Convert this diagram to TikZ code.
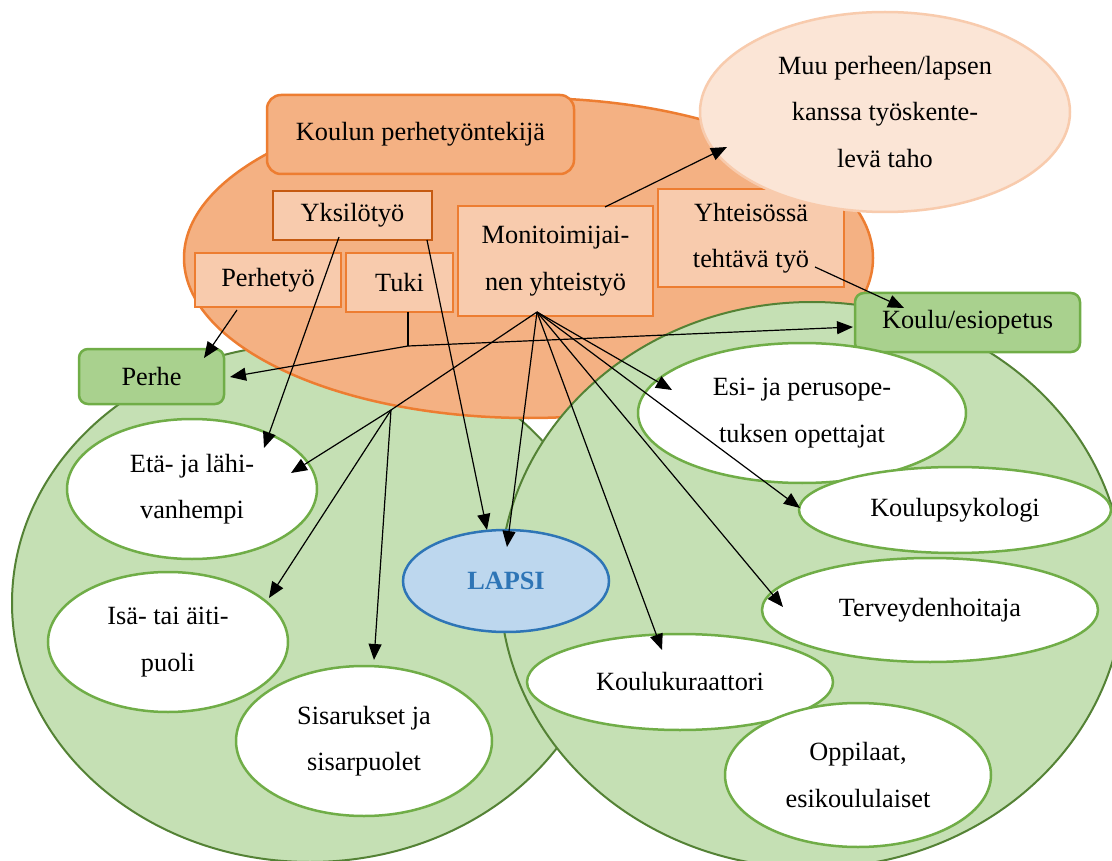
\documentclass[tikz,border=0pt]{standalone}
\usepackage{fontspec}
\setmainfont{Liberation Serif}
\usetikzlibrary{arrows.meta,shapes.geometric}
\definecolor{orF}{HTML}{F4B183}
\definecolor{orB}{HTML}{ED7D31}
\definecolor{orL}{HTML}{F8CBAD}
\definecolor{orD}{HTML}{C55A11}
\definecolor{orXL}{HTML}{FBE5D6}
\definecolor{grF}{HTML}{C5E0B4}
\definecolor{grD}{HTML}{548235}
\definecolor{grM}{HTML}{70AD47}
\definecolor{grB}{HTML}{A9D18E}
\definecolor{blF}{HTML}{BDD7EE}
\definecolor{blB}{HTML}{2E75B6}
\begin{document}
\begin{tikzpicture}[x=1pt,y=-1pt,
  txt/.style={font=\fontsize{26.3}{46.5}\selectfont, align=center, text=black},
  obox/.style={txt, rectangle, draw=orB, fill=orL, line width=2.5pt, inner sep=0pt},
  wel/.style={txt, ellipse, draw=grM, fill=white, line width=2.5pt, inner sep=0pt},
  gbox/.style={txt, rectangle, draw=grM, fill=grB, line width=2.5pt, rounded corners=9pt, inner sep=0pt},
  biggreen/.style={ellipse, fill=grF, draw=grD, line width=2pt, inner sep=0pt},
  arr/.style={-{Triangle[length=16pt,width=13pt]}, line width=1.2pt, black},
  ln/.style={line width=1.2pt, black}
]
\clip (0,0) rectangle (1112,861);
\fill[white] (0,0) rectangle (1112,861);
% left green region (Perhe)
\node[biggreen, minimum width=596pt, minimum height=518pt] (gleft) at (310,603) {};
% orange region
\node[ellipse, fill=orF, draw=orB, line width=2.5pt, inner sep=0pt,
      minimum width=689pt, minimum height=320pt] (oel) at (528.5,258) {};
% right green region (Koulu)
\node[biggreen, minimum width=624pt, minimum height=566pt] (gright) at (812,585) {};
% orange boxes
\node[txt, rectangle, draw=orB, fill=orF, line width=2.5pt, rounded corners=14pt,
      minimum width=307pt, minimum height=79pt, inner sep=0pt] (kpt) at (420.5,134.5) {Koulun perhetyöntekijä};
\node[obox, draw=orD, minimum width=159pt, minimum height=49pt] (yks) at (352.5,215.5) {Yksilötyö};
\node[obox, minimum width=146pt, minimum height=54pt] (pty) at (268,280) {Perhetyö};
\node[obox, minimum width=107pt, minimum height=59pt] (tuki) at (399.5,282.5) {Tuki};
\node[obox, minimum width=195pt, minimum height=110pt] (mon) at (555.5,261) {Monitoimijai-\\nen yhteistyö};
\node[obox, minimum width=186pt, minimum height=98pt] (yht) at (751,238) {Yhteisössä\\tehtävä työ};
\node[txt, ellipse, fill=orXL, draw=orL, line width=2.5pt, inner sep=0pt,
      minimum width=370pt, minimum height=200pt] (muu) at (885,112) {Muu perheen/lapsen\\kanssa työskente-\\levä taho};
% green labels
\node[gbox, minimum width=145pt, minimum height=55pt] (perhe) at (151.5,376.5) {Perhe};
\node[gbox, minimum width=225pt, minimum height=59pt] (koulu) at (967.5,322.5) {Koulu/esiopetus};
% white ellipses
\node[wel, minimum width=250pt, minimum height=140pt] (eta) at (192,489) {Etä- ja lähi-\\vanhempi};
\node[wel, minimum width=240pt, minimum height=140pt] (isa) at (168,642) {Isä- tai äiti-\\puoli};
\node[wel, minimum width=256pt, minimum height=150pt] (sis) at (364,741) {Sisarukset ja\\sisarpuolet};
\node[wel, minimum width=328pt, minimum height=140pt] (esi) at (802,413) {Esi- ja perusope-\\tuksen opettajat};
\node[wel, minimum width=312pt, minimum height=86pt] (psy) at (955,510) {Koulupsykologi};
\node[wel, minimum width=336pt, minimum height=104pt] (ter) at (930,610) {Terveydenhoitaja};
\node[wel, minimum width=306pt, minimum height=96pt] (kur) at (680,682) {Koulukuraattori};
\node[wel, minimum width=266pt, minimum height=144pt] (opp) at (858,775) {Oppilaat,\\esikoululaiset};
\node[txt, ellipse, fill=blF, draw=blB, line width=2.5pt, inner sep=0pt, text=blB,
      font=\fontsize{26.3}{46.5}\selectfont\bfseries,
      minimum width=206pt, minimum height=102pt] (lapsi) at (506,581) {LAPSI};
% connector points
\coordinate (hub) at (537,312);
\coordinate (br) at (391,410);
\coordinate (tk) at (408,346);
\coordinate (sPty) at (237,310);
\coordinate (sYks1) at (339,237);
\coordinate (sYks2) at (427,240);
\coordinate (sTuki) at (408,312);
\coordinate (sMon) at (605,207);
\coordinate (sYht) at (815,267);
\coordinate (ePerhe1) at (204,358);
\coordinate (ePerhe2) at (230,377);
\coordinate (eKoulu1) at (853,327);
\coordinate (eKoulu2) at (904,308);
\coordinate (eEta1) at (264,448);
\coordinate (eEta2) at (291,473);
\coordinate (eIsa) at (269,598);
\coordinate (eSis) at (374,660);
\coordinate (eLapsi1) at (487,530);
\coordinate (eLapsi2) at (507,547);
\coordinate (eKur) at (662,650);
\coordinate (eTer) at (783,607);
\coordinate (ePsy) at (800,508);
\coordinate (eEsi) at (672,390);
\coordinate (eMuu) at (727,147);
% connectors
\draw[arr] (sPty) -- (ePerhe1);
\draw[arr] (sYks1) -- (eEta1);
\draw[arr] (sYks2) -- (eLapsi1);
\draw[ln] (sTuki) -- (tk);
\draw[arr] (tk) -- (ePerhe2);
\draw[arr] (tk) -- (eKoulu1);
\draw[arr] (sMon) -- (eMuu);
\draw[arr] (sYht) -- (eKoulu2);
\draw[arr] (hub) -- (br) -- (eEta2);
\draw[arr] (br) -- (eIsa);
\draw[arr] (br) -- (eSis);
\draw[arr] (hub) -- (eLapsi2);
\draw[arr] (hub) -- (eKur);
\draw[arr] (hub) -- (eTer);
\draw[arr] (hub) -- (ePsy);
\draw[arr] (hub) -- (eEsi);
\end{tikzpicture}
\end{document}
